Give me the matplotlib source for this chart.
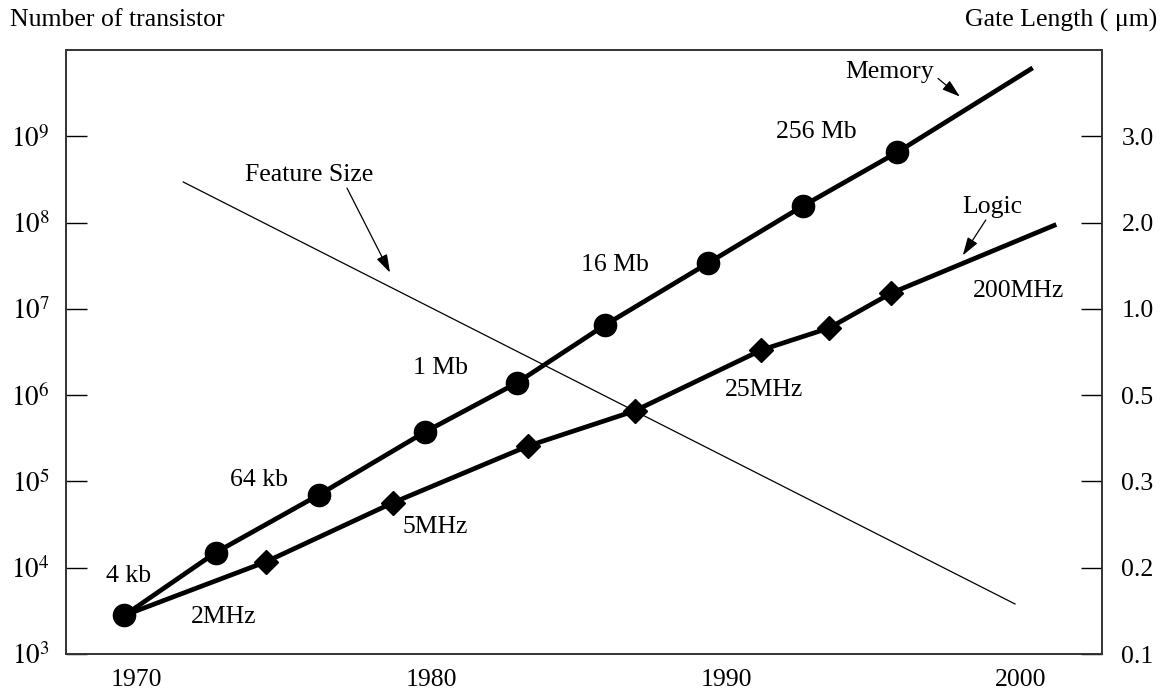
"""
Memory / logic transistor counts and feature size trend,
log scale, with the gate length axis on the right.
"""

import matplotlib

matplotlib.use("Agg")
import matplotlib.pyplot as plt
import numpy as np

plt.rcParams["font.family"] = ["Liberation Serif", "DejaVu Serif"]
plt.rcParams["mathtext.fontset"] = "stix"

# memory chips (circles)
mem_years = [1969.6, 1972.7, 1976.2, 1979.8, 1982.9, 1985.9, 1989.4, 1992.6, 1995.8]
mem_counts = [2.8e3, 1.5e4, 7.0e4, 3.75e5, 1.38e6, 6.5e6, 3.4e7, 1.55e8, 6.5e8]
mem_trend_end = (2000.4, 6.2e9)

# logic chips (diamonds)
logic_years = [1974.4, 1978.7, 1983.3, 1986.9, 1991.2, 1993.5, 1995.6]
logic_counts = [1.17e4, 5.65e4, 2.58e5, 6.56e5, 3.33e6, 6.0e6, 1.52e7]
logic_trend_start = (1969.6, 2.8e3)
logic_trend_end = (2001.2, 9.5e7)

# feature size (gate length, um)
feature_years = [1971.6, 1999.8]
feature_gate = [2.47, 0.158]

year_ticks = [1970, 1980, 1990, 2000]
count_exps = [3, 4, 5, 6, 7, 8, 9]
gate_ticks = [0.1, 0.2, 0.3, 0.5, 1.0, 2.0, 3.0]
gate_labels = ["0.1", "0.2", "0.3", "0.5", "1.0", "2.0", "3.0"]

fig = plt.figure(figsize=(11.7, 6.94), dpi=100)
ax = fig.add_subplot(111)
fig.subplots_adjust(left=0.0568, right=0.9419, top=0.928, bottom=0.0576)

fs = 18.5

# memory line + markers
mx = [*mem_years, mem_trend_end[0]]
my = [*mem_counts, mem_trend_end[1]]
ax.plot(mx, my, color="black", lw=3.4, solid_capstyle="butt", zorder=3)
ax.plot(mem_years, mem_counts, "o", color="black", ms=16, zorder=4)

# logic line + markers
lx = [logic_trend_start[0], *logic_years, logic_trend_end[0]]
ly = [logic_trend_start[1], *logic_counts, logic_trend_end[1]]
ax.plot(lx, ly, color="black", lw=3.4, solid_capstyle="butt", zorder=3)
ax.plot(logic_years, logic_counts, "D", color="black", ms=12.5, zorder=4)

# feature size on gate length scale (mapped to tick heights)
feat_pos = 10 ** np.interp(feature_gate, gate_ticks, count_exps)
ax.plot(feature_years, feat_pos, color="black", lw=0.9, zorder=2)

ax.set_yscale("log")
ax.set_xlim(1967.64, 2002.75)
ax.set_ylim(1e3, 1e10)
ax.set_xticks(year_ticks)
ax.set_xticklabels([str(y) for y in year_ticks])
ax.set_yticks([10.0**e for e in count_exps])
ax.set_yticklabels([f"$10^{{{e}}}$" for e in count_exps])
ax.yaxis.set_minor_locator(matplotlib.ticker.NullLocator())
ax.tick_params(axis="x", length=0, pad=11, labelsize=fs)
ax.tick_params(axis="y", direction="in", length=15, width=1, pad=12, labelsize=fs + 1)

ax2 = ax.twinx()
ax2.set_yscale("log")
ax2.set_ylim(1e3, 1e10)
ax2.set_yticks([10.0**e for e in count_exps])
ax2.set_yticklabels(gate_labels)
ax2.yaxis.set_minor_locator(matplotlib.ticker.NullLocator())
ax2.tick_params(axis="y", direction="in", length=15, width=1, pad=14, labelsize=fs)

for a in (ax, ax2):
    for s in a.spines.values():
        s.set_color("#333333")
        s.set_linewidth(1.2)

# labels on the points
labels = [
    ("4 kb", 1969.76, 10**3.90),
    ("64 kb", 1974.17, 10**5.02),
    ("1 Mb", 1980.31, 10**6.315),
    ("16 Mb", 1986.24, 10**7.51),
    ("256 Mb", 1993.08, 10**9.05),
    ("2MHz", 1972.98, 10**3.434),
    ("5MHz", 1980.14, 10**4.475),
    ("25MHz", 1991.29, 10**6.06),
    ("200MHz", 1999.93, 10**7.21),
]
for txt, x, y in labels:
    ax.text(x, y, txt, ha="center", va="center", fontsize=fs)

arrow = dict(arrowstyle="-|>,head_length=1.1,head_width=0.35", color="black", lw=0.9,
             shrinkA=0, shrinkB=0)
ax.text(1995.56, 10**9.75, "Memory", ha="center", va="center", fontsize=fs)
ax.annotate("", xy=(1997.93, 10**9.46), xytext=(1997.19, 10**9.67), arrowprops=arrow)
ax.text(1999.02, 10**8.18, "Logic", ha="center", va="center", fontsize=fs)
ax.annotate("", xy=(1998.03, 10**7.62), xytext=(1998.81, 10**8.03), arrowprops=arrow)
ax.text(1975.86, 10**8.55, "Feature Size", ha="center", va="center", fontsize=fs)
ax.annotate("", xy=(1978.61, 10**7.42), xytext=(1977.15, 10**8.40), arrowprops=arrow)

fig.text(10 / 1170, 1 - 20 / 694, "Number of transistor", ha="left", va="center", fontsize=fs)
fig.text(1157 / 1170, 1 - 20 / 694, "Gate Length ( μm)", ha="right", va="center", fontsize=fs)

fig.savefig("out.png", dpi=100)
